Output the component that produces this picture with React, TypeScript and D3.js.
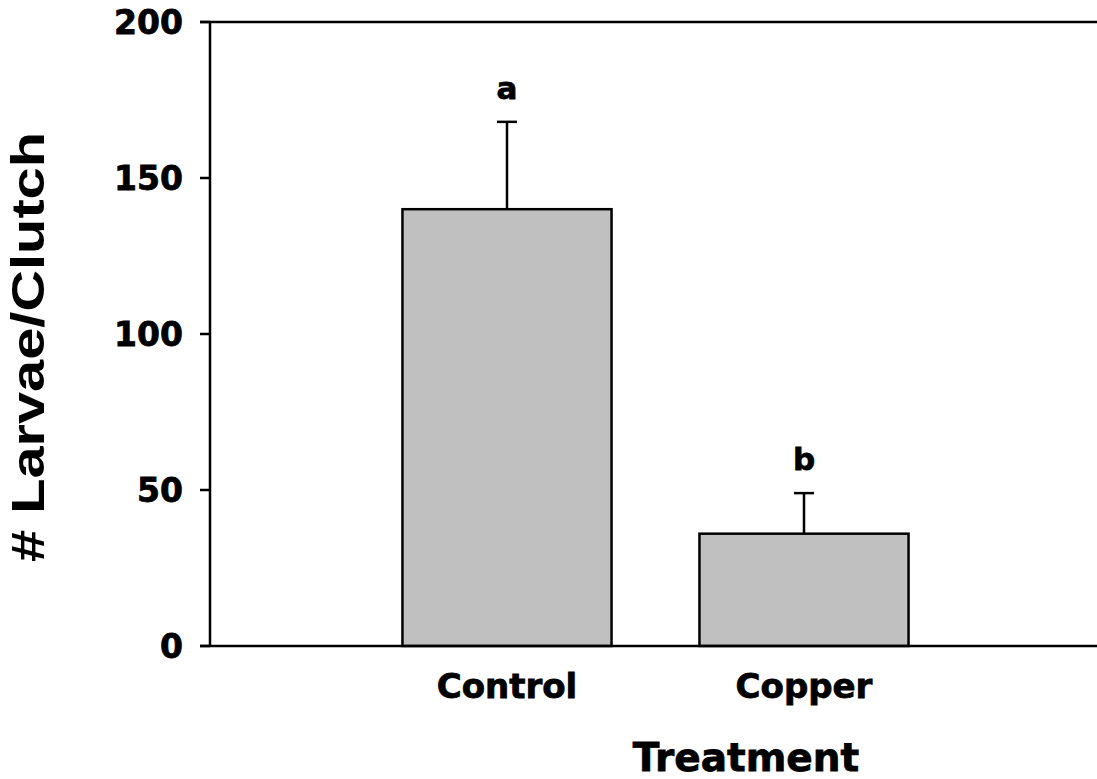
import React from "react";
import * as d3 from "d3";

const categories = ["Control", "Copper"];
const means = [140, 36];
const errors = [28, 13];
const letters = ["a", "b"];
const yTicks = [0, 50, 100, 150, 200];

const W = 1097;
const H = 779;
const left = 210;
const right = 1101;
const top = 22;
const bottom = 646;

const numFont = "'DejaVu Sans', Verdana, sans-serif";
const titleFont = "'Liberation Sans', Arial, sans-serif";
// a thin outline thickens the bold face a little
const heavy = { stroke: "#000", strokeWidth: 0.8 };

export default function App() {
  const y = d3.scaleLinear().domain([0, 200]).range([bottom, top]);
  // category slots sit at 1 and 2 on a 0..3 axis spanning the frame
  const x = d3.scaleLinear().domain([0, 3]).range([left, right]);
  const barW = (x(1) - x(0)) * 0.704;

  return (
    <svg width={W} height={H} style={{ position: "absolute", left: 0, top: 0, background: "#fff" }}>
      {/* bars */}
      {categories.map((c, i) => {
        const cx = x(i + 1);
        return (
          <g key={c}>
            <line x1={cx} x2={cx} y1={y(means[i])} y2={y(means[i] + errors[i])} stroke="#000" strokeWidth={2.5} />
            <line x1={cx - 10} x2={cx + 10} y1={y(means[i] + errors[i])} y2={y(means[i] + errors[i])} stroke="#000" strokeWidth={2.5} />
            <rect x={cx - barW / 2} y={y(means[i])} width={barW} height={y(0) - y(means[i])} fill="#c0c0c0" stroke="#000" strokeWidth={2.5} />
            <text x={cx} y={y(means[i] + errors[i]) - 23} textAnchor="middle" fontFamily={numFont} fontWeight="bold" fontSize={31} {...heavy}>
              {letters[i]}
            </text>
            <text x={cx} y={698} textAnchor="middle" fontFamily={numFont} fontWeight="bold" fontSize={34} {...heavy}>
              {c}
            </text>
          </g>
        );
      })}
      {/* frame */}
      <line x1={left} x2={left} y1={top} y2={bottom} stroke="#000" strokeWidth={2.5} />
      <line x1={left - 10} x2={W + 5} y1={bottom} y2={bottom} stroke="#000" strokeWidth={2.5} />
      <line x1={left - 10} x2={W + 5} y1={top} y2={top} stroke="#000" strokeWidth={2.5} />
      {/* y ticks */}
      {yTicks.map((t) => (
        <g key={t}>
          <line x1={left - 10} x2={left} y1={y(t)} y2={y(t)} stroke="#000" strokeWidth={2.5} />
          <text x={183} y={y(t)} dy="0.36em" textAnchor="end" fontFamily={numFont} fontWeight="bold" fontSize={33} {...heavy}>
            {t}
          </text>
        </g>
      ))}
      {/* axis titles */}
      <text x={746} y={771} textAnchor="middle" fontFamily={numFont} fontWeight="bold" fontSize={39} {...heavy}>
        Treatment
      </text>
      <text
        transform={`translate(44, 347) rotate(-90)`}
        textAnchor="middle"
        fontFamily={titleFont}
        fontWeight="bold"
        fontSize={46}
        textLength={430}
        lengthAdjust="spacingAndGlyphs"
      >
        # Larvae/Clutch
      </text>
    </svg>
  );
}
